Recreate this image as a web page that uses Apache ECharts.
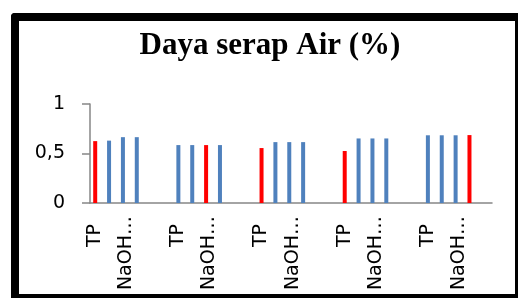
<!DOCTYPE html>
<html>
<head>
<meta charset="utf-8">
<script src="https://cdn.jsdelivr.net/npm/echarts@6/dist/echarts.min.js"></script>
<style>
    html, body { margin: 0; padding: 0; background: #fff; }
    #main { width: 518px; height: 300px; }
</style>
</head>
<body>
<div id="main"></div>
<script>
// nilai per kelompok (4 batang per kelompok)
const kelompok1 = [0.625, 0.63, 0.665, 0.665]
const kelompok2 = [0.585, 0.585, 0.585, 0.585]
const kelompok3 = [0.555, 0.615, 0.615, 0.615]
const kelompok4 = [0.525, 0.652, 0.652, 0.652]
const kelompok5 = [0.684, 0.684, 0.684, 0.686]
// batang yang berwarna merah di tiap kelompok
const batangMerah = [0, 2, 0, 0, 3]
// label kategori yang terlihat di tiap kelompok
const labelKategori = ['TP', 'NaOH…']

const semuaKelompok = [kelompok1, kelompok2, kelompok3, kelompok4, kelompok5]

// sumbu kategori dibagi jadi slot kecil, supaya jarak antar kelompok mirip aslinya
const slotPerKelompok = 24
const jumlahSlot = 116
const xData = []
const seriesData = []
const labelMap = {}
for (let i = 0; i < jumlahSlot; i++) {
    xData.push('s' + i)
    seriesData.push('-')
}
semuaKelompok.forEach((vals, g) => {
    const awal = g * slotPerKelompok + 1
    vals.forEach((v, k) => {
        seriesData[awal + k * 4] = {
            value: v,
            itemStyle: { color: k === batangMerah[g] ? '#FF0000' : '#4F81BD' }
        }
    })
    labelMap[awal] = '{pendek|' + labelKategori[0] + '}'
    labelMap[awal + 9] = labelKategori[1]
})

let myChart = echarts.init(document.getElementById('main'))
myChart.setOption({
    backgroundColor: '#fff',
    animation: false,
    title: {
        text: 'Daya serap Air (%)',
        left: 265,
        textAlign: 'center',
        top: 25,
        textStyle: {
            fontFamily: 'Liberation Serif',
            fontWeight: 'bold',
            fontSize: 31,
            color: '#000'
        }
    },
    // bingkai hitam di sekeliling grafik
    graphic: [
        { type: 'rect', shape: { x: 11, y: 13, width: 8, height: 285, r: [4, 0, 0, 0] }, style: { fill: '#000' } },
        { type: 'rect', shape: { x: 11, y: 13, width: 507, height: 8, r: [4, 0, 0, 0] }, style: { fill: '#000' } },
        { type: 'rect', shape: { x: 515, y: 13, width: 3, height: 285 }, style: { fill: '#000' } },
        { type: 'rect', shape: { x: 11, y: 294, width: 507, height: 4 }, style: { fill: '#000' } }
    ],
    grid: {
        left: 90,
        right: 26,
        top: 104,
        bottom: 97
    },
    xAxis: {
        type: 'category',
        data: xData,
        axisLine: { show: true, lineStyle: { color: '#868686', width: 1.5 } },
        axisTick: { show: false },
        axisLabel: {
            rotate: 90,
            margin: 13,
            color: '#000',
            fontFamily: 'DejaVu Sans',
            fontSize: 19,
            interval: (index) => labelMap[index] !== undefined,
            formatter: (value, index) => labelMap[index] || '',
            rich: {
                // label TP di aslinya sedikit lebih jauh dari sumbu
                pendek: { fontFamily: 'DejaVu Sans', fontSize: 19, color: '#000', padding: [0, 8, 0, 0] }
            }
        }
    },
    yAxis: {
        type: 'value',
        min: 0,
        max: 1,
        interval: 0.5,
        axisLine: { show: true, lineStyle: { color: '#868686', width: 1.5 } },
        axisTick: { show: true, length: 8, lineStyle: { color: '#868686', width: 1.5 } },
        splitLine: { show: false },
        axisLabel: {
            margin: 25,
            color: '#000',
            fontFamily: 'DejaVu Sans',
            fontSize: 19,
            formatter: (v) => String(v).replace('.', ',')
        }
    },
    series: [{
        type: 'bar',
        barWidth: 4,
        data: seriesData
    }]
})
</script>
</body>
</html>
